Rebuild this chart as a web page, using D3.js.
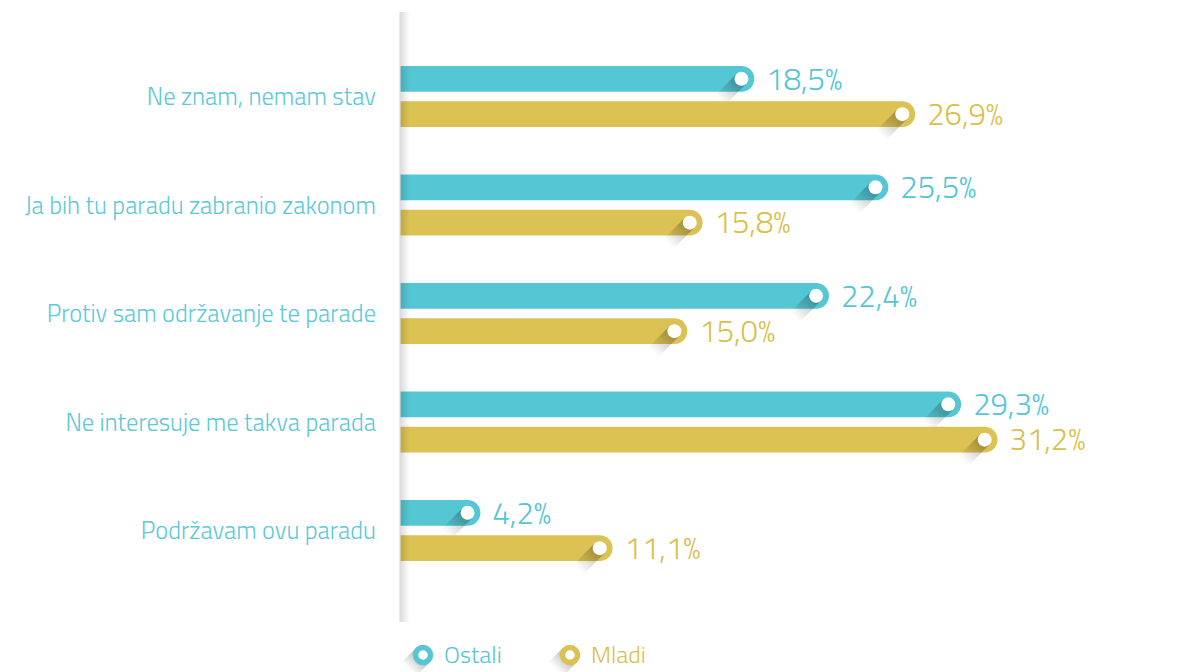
<!DOCTYPE html>
<html>
<head>
<meta charset="utf-8">
<script src="https://cdn.jsdelivr.net/npm/d3@7"></script>
<style>
  html, body { margin: 0; padding: 0; background: #ffffff; }
  svg { display: block; }
  text { font-family: "Titillium Web", "Lato", "Open Sans", sans-serif; font-weight: 300; }
</style>
</head>
<body>
<svg id="chart" width="1178" height="672"></svg>
<script>
// Answers, top to bottom
const categories = [
  "Ne znam, nemam stav",
  "Ja bih tu paradu zabranio zakonom",
  "Protiv sam održavanje te parade",
  "Ne interesuje me takva parada",
  "Podržavam ovu paradu"
];
const seriesNames = ["Ostali", "Mladi"];
const ostali = [18.5, 25.5, 22.4, 29.3, 4.2];
const mladi  = [26.9, 15.8, 15.0, 31.2, 11.1];
const seriesColors = ["#55c6d3", "#dcc253"];
const labelColors  = ["#55c6d3", "#d9bf4e"];

const rows = categories.map((c, i) => ({ category: c, values: [ostali[i], mladi[i]] }));

const svg = d3.select("#chart");
const defs = svg.append("defs");

// fading diagonal shadow behind each end dot
const sg = defs.append("linearGradient").attr("id", "dotShadow")
  .attr("x1", 0).attr("y1", 0).attr("x2", 0).attr("y2", 1);
sg.append("stop").attr("offset", "0%").attr("stop-color", "#000").attr("stop-opacity", 0.30);
sg.append("stop").attr("offset", "100%").attr("stop-color", "#000").attr("stop-opacity", 0);

// soft shadow to the right of the baseline
const ag = defs.append("linearGradient").attr("id", "axisShadow")
  .attr("x1", 0).attr("y1", 0).attr("x2", 1).attr("y2", 0);
ag.append("stop").attr("offset", "0%").attr("stop-color", "#000").attr("stop-opacity", 0.14);
ag.append("stop").attr("offset", "100%").attr("stop-color", "#000").attr("stop-opacity", 0);

const x = d3.scaleLinear().domain([0, 35]).range([400, 1070.3]);
const y = d3.scaleBand().domain(categories).range([66, 561]).paddingInner(0.4378).paddingOuter(0);
const ys = d3.scaleBand().domain(seriesNames).range([0, y.bandwidth()]).paddingInner(0.27);

const h = ys.bandwidth();
const r = h / 2;

// category labels (left axis, no line/ticks)
const yAxis = d3.axisLeft(y).tickSize(0).tickPadding(0);
const gAxis = svg.append("g").attr("transform", "translate(376,0)").call(yAxis);
gAxis.select(".domain").remove();
gAxis.selectAll("text")
  .attr("fill", "#5cc9d7")
  .style("font-size", "24.5px")
  .style("font-family", "'Titillium Web', 'Lato', 'Open Sans', sans-serif")
  .style("font-weight", 300)
  .attr("dy", "0.35em");

function barPath(x0, x1, top) {
  const w = Math.max(x1 - x0, r);
  return `M${x0},${top} H${x0 + w - r} A${r},${r} 0 0 1 ${x0 + w - r},${top + h} H${x0} Z`;
}

const groups = svg.append("g").selectAll("g.row").data(rows).join("g")
  .attr("class", "row")
  .attr("transform", d => `translate(0,${y(d.category)})`);

const bars = groups.selectAll("g.bar")
  .data(d => d.values.map((v, j) => ({ v, s: seriesNames[j], j })))
  .join("g").attr("class", "bar");

bars.append("path")
  .attr("d", d => barPath(x(0), x(d.v), ys(d.s)))
  .attr("fill", d => seriesColors[d.j]);

// diagonal shadow from the dot toward the lower left
bars.append("rect")
  .attr("x", -7).attr("y", 0).attr("width", 14).attr("height", 30)
  .attr("fill", "url(#dotShadow)")
  .attr("transform", d => `translate(${x(d.v) - r},${ys(d.s) + r}) rotate(45)`);

bars.append("circle")
  .attr("cx", d => x(d.v) - r)
  .attr("cy", d => ys(d.s) + r)
  .attr("r", 7)
  .attr("fill", "#ffffff");

bars.append("text")
  .attr("x", d => x(d.v) + 12)
  .attr("y", d => ys(d.s) + r)
  .attr("dy", "0.35em")
  .attr("fill", d => labelColors[d.j])
  .style("font-size", "31px")
  .text(d => d3.format(".1f")(d.v).replace(".", ",") + "%");

// baseline with its soft shadow
svg.append("rect")
  .attr("x", x(0)).attr("y", 12).attr("width", 10).attr("height", 610)
  .attr("fill", "url(#axisShadow)");
svg.append("line")
  .attr("x1", x(0)).attr("x2", x(0)).attr("y1", 12).attr("y2", 622)
  .attr("stroke", "#dcdcdc").attr("stroke-width", 1.2);

// legend
const legendX = [423, 570];
const legend = svg.append("g").selectAll("g").data(seriesNames).join("g")
  .attr("transform", (d, i) => `translate(${legendX[i]},655)`);
legend.append("rect")
  .attr("x", -10).attr("y", 0).attr("width", 20).attr("height", 20)
  .attr("fill", "url(#dotShadow)")
  .attr("transform", "rotate(45)");
legend.append("circle").attr("r", 7.5)
  .attr("fill", "#ffffff")
  .attr("stroke", (d, i) => seriesColors[i]).attr("stroke-width", 5.5);
legend.append("text")
  .attr("x", 21).attr("dy", "0.35em")
  .attr("fill", (d, i) => labelColors[i])
  .style("font-size", "24px")
  .text(d => d);
</script>
</body>
</html>
